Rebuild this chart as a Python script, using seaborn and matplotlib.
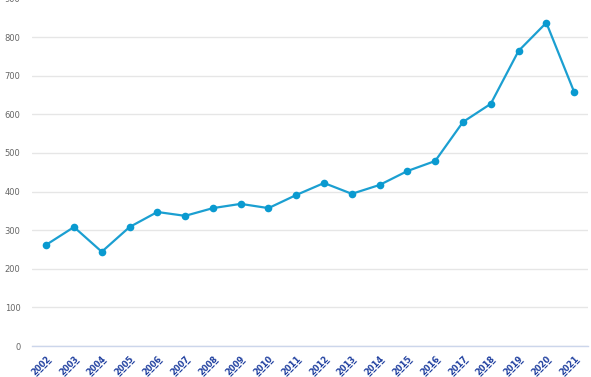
import seaborn as sns
import matplotlib.pyplot as plt
import matplotlib.transforms as mtransforms
import pandas as pd

years = [str(y) for y in range(2002, 2022)]
values = [262, 308, 244, 308, 347, 337, 357, 368, 357, 391,
          422, 394, 417, 453, 479, 580, 627, 764, 837, 658]

df = pd.DataFrame({'pos': range(len(years)), 'value': values})

sns.set_style('white')
fig = plt.figure(figsize=(5.91, 3.77), dpi=100)
ax = fig.add_axes([32.3 / 591, 31 / 377, 555.7 / 591, 347.6 / 377])

sns.lineplot(data=df, x='pos', y='value', ax=ax, color='#1b9fd1',
             linewidth=1.6, marker='o', markersize=5.5,
             markeredgewidth=0, markerfacecolor='#0a9ad0')

ax.set_xlim(-0.5, len(years) - 0.5)
ax.set_ylim(0, 900)
ax.set_yticks(range(0, 901, 100))
ax.yaxis.grid(True, color='#e6e6e6', linewidth=1)
ax.set_axisbelow(True)

# band boundaries as major ticks, labels at centres (underlined with combining low line)
ax.set_xticks([i - 0.5 for i in range(len(years) + 1)])
ax.set_xticklabels([])
ax.set_xticks(range(len(years)), minor=True)
ax.set_xticklabels([''.join(c + '\u0332' for c in y) for y in years], minor=True,
                   rotation=45, ha='right', rotation_mode='anchor',
                   color='#1f3f9f', fontsize=6, fontweight='bold')
shift = mtransforms.ScaledTranslation(2 / 100, 0, fig.dpi_scale_trans)
for lbl in ax.get_xticklabels(minor=True):
    lbl.set_transform(lbl.get_transform() + shift)
ax.tick_params(axis='x', which='major', length=7, color='#ccd6eb', width=1, direction='out')
ax.tick_params(axis='x', which='minor', length=0, pad=6)
ax.tick_params(axis='y', length=0, pad=8.5, labelsize=6, labelcolor='#666666')
for lbl in ax.get_yticklabels():
    lbl.set_clip_on(False)

for s in ['top', 'right', 'left']:
    ax.spines[s].set_visible(False)
ax.spines['bottom'].set_color('#ccd6eb')
ax.spines['bottom'].set_linewidth(1)
ax.set_xlabel('')
ax.set_ylabel('')

fig.savefig('out.png', dpi=100)
